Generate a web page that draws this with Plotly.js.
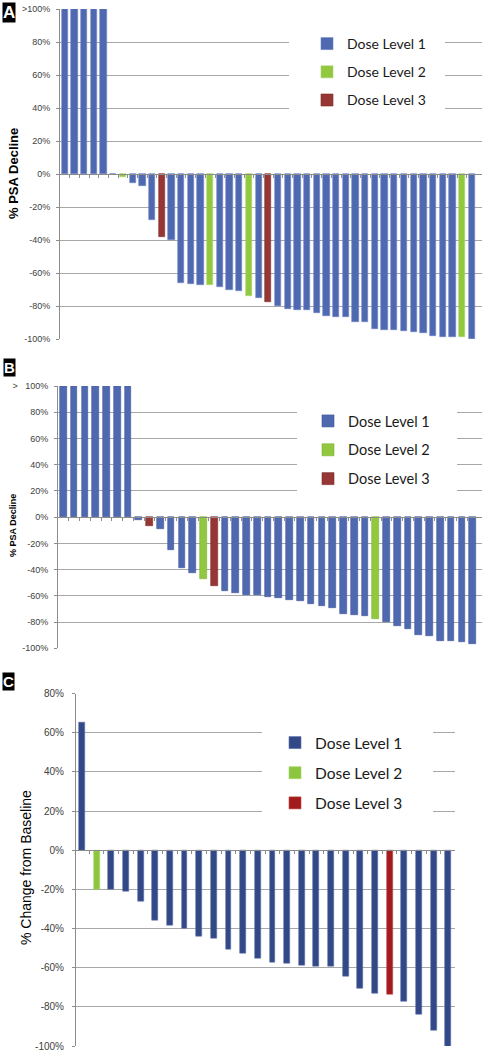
<!DOCTYPE html>
<html><head><meta charset="utf-8">
<script src="https://cdn.plot.ly/plotly-3.0.1.min.js"></script>
<style>html,body{margin:0;padding:0;background:#fff}#chart{width:482px;height:1050px}</style>
</head><body><div id="chart"></div>
<script>
// ---------- DATA ----------
const doseNames = ['Dose Level 1', 'Dose Level 2', 'Dose Level 3'];

// Panel A: % PSA decline (values > 100% capped at 100)
const valuesA = [100, 100, 100, 100, 100, 0, -2, -5.5, -7, -28, -38, -40, -66, -66.7, -67, -67, -68.5, -70, -71, -74, -75.4, -77.4, -80, -81.8, -82.6, -82.6, -84.4, -85.8, -86.5, -86.5, -89.9, -89.9, -93.9, -94.5, -94.5, -95.2, -95.8, -96.4, -98, -98.6, -99, -99, -100];
const doseA   = [1, 1, 1, 1, 1, 1, 2, 1, 1, 1, 3, 1, 1, 1, 1, 2, 1, 1, 1, 2, 1, 3, 1, 1, 1, 1, 1, 1, 1, 1, 1, 1, 1, 1, 1, 1, 1, 1, 1, 1, 1, 2, 1];

// Panel B: % PSA decline (values > 100% capped at 100)
const valuesB = [100, 100, 100, 100, 100, 100, 100, -2.5, -7, -9.2, -24.7, -38.4, -42.7, -47.3, -52.4, -56.2, -57.8, -59, -59.3, -60.6, -61.3, -63.4, -64.1, -66.4, -67.4, -69, -73.5, -74.3, -75.3, -77.4, -80.2, -83.2, -85.2, -90.1, -90.3, -94.1, -94.4, -94.9, -96.7];
const doseB   = [1, 1, 1, 1, 1, 1, 1, 1, 3, 1, 1, 1, 1, 2, 3, 1, 1, 1, 1, 1, 1, 1, 1, 1, 1, 1, 1, 1, 1, 2, 1, 1, 1, 1, 1, 1, 1, 1, 1];

// Panel C: % change from baseline
const valuesC = [65, -20, -20.2, -21.1, -26.2, -35.9, -38.3, -39.8, -44, -44.9, -50.7, -52.6, -55.3, -57.5, -57.8, -58.8, -59.5, -59.5, -64.5, -70.4, -73.1, -73.6, -77.4, -83.8, -92.2, -100];
const doseC   = [1, 2, 1, 1, 1, 1, 1, 1, 1, 1, 1, 1, 1, 1, 1, 1, 1, 1, 1, 1, 1, 3, 1, 1, 1, 1];

// Tick labels
const tickValsAB = [-100, -80, -60, -40, -20, 0, 20, 40, 60, 80, 100];
const tickTextA  = ['-100%', '-80%', '-60%', '-40%', '-20%', '0%', '20%', '40%', '60%', '80%', '>100%'];
const tickTextB  = ['-100%', '-80%', '-60%', '-40%', '-20%', '0%', '20%', '40%', '60%', '80%', '>\u00a0\u00a0\u00a0100%'];
const tickValsC  = [-100, -80, -60, -40, -20, 0, 20, 40, 60, 80];
const tickTextC  = ['-100%', '-80%', '-60%', '-40%', '-20%', '0%', '20%', '40%', '60%', '80%'];

const titleA = '% PSA Decline';
const titleB = '% PSA Decline';
const titleC = '% Change from Baseline';
const panelLetters = ['A', 'B', 'C'];

// ---------- STYLE ----------
const colorsAB = ['#4f69b1', '#92c840', '#963735'];
const colorsC  = ['#324887', '#8cc63f', '#a21c1c'];
const W = 482, H = 1050;
const px = v => v / W;
const py = v => 1 - v / H;

function makeTraces(vals, doses, colors, xa, ya, legendId, width, lineCol) {
  return [1, 2, 3].map(d => {
    const idx = vals.map((v, i) => i).filter(i => doses[i] === d);
    return {
      type: 'bar', x: idx, y: idx.map(i => vals[i]),
      name: doseNames[d - 1], width: width,
      marker: {color: colors[d - 1], line: {width: 0.6, color: lineCol[d - 1]}},
      xaxis: xa, yaxis: ya, legend: legendId, legendgroup: legendId + d,
      hoverinfo: 'skip'
    };
  });
}
const halfTicks = vals => vals.slice(1).map((v, i) => i + 0.5);

const data = [
  ...makeTraces(valuesA, doseA, colorsAB, 'x', 'y', 'legend', 0.65, ['#6b82c4', '#a6d465', '#7d2b29']),
  ...makeTraces(valuesB, doseB, colorsAB, 'x2', 'y2', 'legend2', 0.62, ['#3f5599', '#7fb234', '#7d2b29']),
  ...makeTraces(valuesC, doseC, colorsC, 'x3', 'y3', 'legend3', 0.40, ['#5a6fa8', '#a6d465', '#c04444'])
];

const axLine = '#8c8c8c', grid = '#a8a8a8';
const tickFont = (s) => ({family: 'Arial, Liberation Sans, sans-serif', size: s, color: '#404040'});

function xAx(dom, rng, pos, vals) {
  return {domain: dom, range: rng, anchor: 'free', position: pos, showline: true, linecolor: axLine, linewidth: 1,
    ticks: 'outside', ticklen: 3, tickcolor: axLine, tickvals: halfTicks(vals), showticklabels: false,
    showgrid: false, zeroline: false, fixedrange: true};
}
function yAx(dom, rng, anchor, tv, tt, fs, standoff) {
  return {domain: dom, range: rng, anchor: anchor, tickvals: tv, ticktext: tt, showgrid: true, gridcolor: grid, gridwidth: 1,
    showline: true, linecolor: axLine, ticks: 'outside', ticklen: 3, tickcolor: axLine, tickfont: tickFont(fs),
    ticklabelstandoff: standoff, ticklabeloverflow: 'allow', zeroline: false, fixedrange: true};
}

const domA = [py(339), py(9)], domB = [py(648.3), py(386)], domC = [py(1046), py(693.5)];

const legendFont = (s) => ({family: 'Lato, Open Sans, sans-serif', size: s, color: '#1a1a1a'});
function leg(x, y, fs, gap) {
  return {x: px(x), y: py(y), xanchor: 'left', yanchor: 'top', bgcolor: 'rgba(0,0,0,0)', borderwidth: 0,
    font: legendFont(fs), tracegroupgap: gap, traceorder: 'grouped', itemclick: false, itemdoubleclick: false};
}

function whiteRect(x0, x1, y0, y1) {
  return {type: 'rect', xref: 'paper', yref: 'paper', x0: px(x0), x1: px(x1), y0: py(y1), y1: py(y0),
    fillcolor: '#ffffff', line: {width: 0}, layer: 'above'};
}

function letterBox(letter, x, y, fs) {
  return {text: '<b>' + letter + '</b>', xref: 'paper', yref: 'paper', x: px(x), y: py(y), xanchor: 'left', yanchor: 'top',
    showarrow: false, bgcolor: '#000000', font: {family: 'Arial, Liberation Sans, sans-serif', size: fs, color: '#ffffff'}, borderpad: 0};
}
function yTitle(text, x, y, fs, bold) {
  return {text: bold ? '<b>' + text + '</b>' : text, xref: 'paper', yref: 'paper', x: px(x), y: py(y), xanchor: 'center', yanchor: 'middle',
    textangle: -90, showarrow: false, font: {family: 'Arial, Liberation Sans, sans-serif', size: fs, color: '#000000'}};
}

const layout = {
  width: W, height: H, margin: {l: 0, r: 0, t: 0, b: 0},
  paper_bgcolor: '#ffffff', plot_bgcolor: 'rgba(0,0,0,0)',
  barmode: 'overlay', showlegend: true, bargap: 0,
  xaxis:  xAx([px(60), 1], [-0.5, 43.05], (domA[0] + domA[1]) / 2, valuesA),
  yaxis:  yAx(domA, [-100, 100], 'x', tickValsAB, tickTextA, 9, 4),
  xaxis2: xAx([px(58), 1], [-0.5, 38.87], (domB[0] + domB[1]) / 2, valuesB),
  yaxis2: yAx(domB, [-100, 100], 'x2', tickValsAB, tickTextB, 9, 4),
  xaxis3: xAx([px(76), px(455)], [-0.41, 25.46], domC[0] + (domC[1] - domC[0]) * 100 / 180, valuesC),
  yaxis3: yAx(domC, [-100, 80], 'x3', tickValsC, tickTextC, 10, 6),
  legend:  leg(307, 28, 14, 7),
  legend2: leg(308, 405, 14.5, 7),
  legend3: leg(275, 726, 15.5, 7),
  shapes: [whiteRect(289, 445, 30, 120), whiteRect(297, 457, 400, 498), whiteRect(262, 433, 715, 830)],
  annotations: [
    letterBox(panelLetters[0], 2, 2, 17),
    letterBox(panelLetters[1], 3, 358, 15),
    letterBox(panelLetters[2], 2, 672, 15),
    yTitle(titleA, 13, 174, 13, true),
    yTitle(titleB, 13, 526, 9, true),
    yTitle(titleC, 26, 868, 14, false)
  ]
};

Plotly.newPlot('chart', data, layout, {displayModeBar: false, staticPlot: false});
</script>
</body></html>
